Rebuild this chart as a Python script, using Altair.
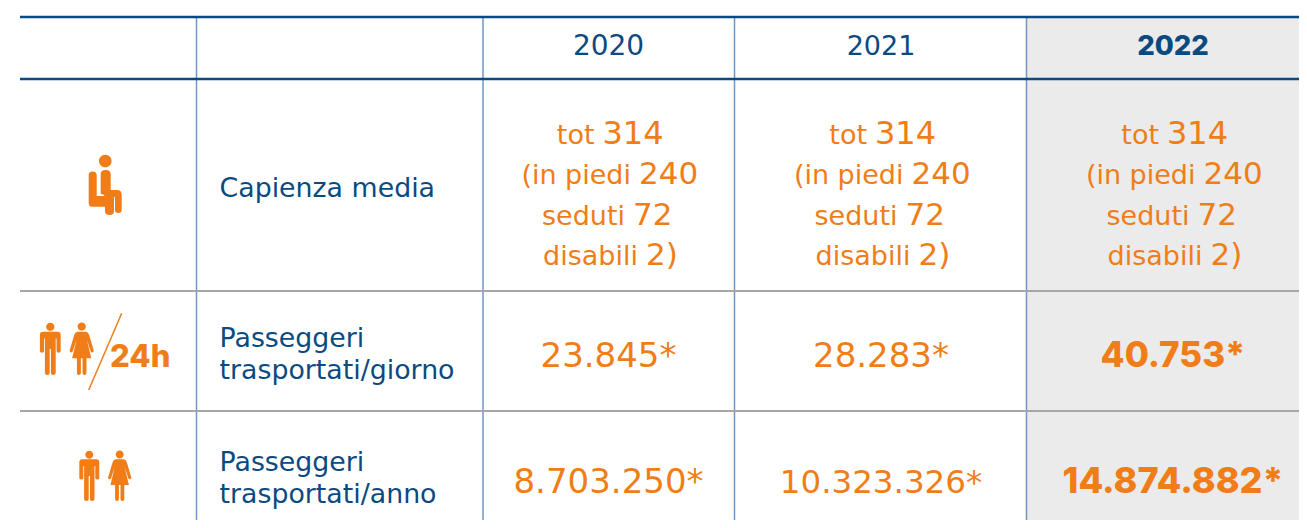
import altair as alt
import pandas as pd

# ---------- data ----------
years = ["2020", "2021", "2022"]
row_labels = [["Capienza media"],
              ["Passeggeri", "trasportati/giorno"],
              ["Passeggeri", "trasportati/anno"]]
capacity_words = ["tot", "(in piedi", "seduti", "disabili"]
capacity_values = ["314", "240", "72", "2)"]
daily = ["23.845*", "28.283*", "40.753*"]
yearly = ["8.703.250*", "10.323.326*", "14.874.882*"]

# ---------- layout (page pixels) ----------
OX, OY = 8, 8
W, H = 1291, 512
col_center = {"2020": 608.5, "2021": 881, "2022": 1173}
col_edges = [196.5, 483, 734.5, 1026.5]
label_x = 219.5
cap_base = [143.5, 184, 224.5, 265]
cap_split = [-10, 26.5, 20.5, 33.5]
BLUE, ORANGE, GREY, VLINE, BG = "#0b4a80", "#f07d17", "#a6a6a6", "#6f97c6", "#ebebeb"
FONT = "DejaVu Sans"
BOLD = "Inter"


def P(text, x, y, **kw):
    return dict(text=text, x=x - OX, y=y - OY, **kw)


def text_layer(rows, size, color, align="center", weight=400):
    return alt.Chart(pd.DataFrame(rows)).mark_text(
        font=BOLD if weight > 400 else FONT, fontSize=size, color=color, align=align,
        baseline="alphabetic", fontWeight=weight
    ).encode(x=alt.X("x:Q", scale=None), y=alt.Y("y:Q", scale=None), text="text:N")


def rule(x1, y1, x2, y2, color, w):
    return alt.Chart(pd.DataFrame({"a": [0]})).mark_rule(color=color, strokeWidth=w).encode(
        x=alt.value(x1 - OX), x2=alt.value(x2 - OX), y=alt.value(y1 - OY), y2=alt.value(y2 - OY))


HEAD = "M{l},{c} a4,4 0 1,0 8,0 a4,4 0 1,0 -8,0 Z"
MAN = ("M-7,-16.7 L7,-16.7 Q10,-16.7 10,-13.7 L10,2 Q10,3.5 8,3.5 Q6,3.5 6,2 L6,-10 L5.2,-10 "
       "L5.2,23 Q5.2,25 2.9,25 Q0.6,25 0.6,23 L0.6,0 L-0.6,0 L-0.6,23 Q-0.6,25 -2.9,25 Q-5.2,25 -5.2,23 "
       "L-5.2,-10 L-6,-10 L-6,2 Q-6,3.5 -8,3.5 Q-10,3.5 -10,2 L-10,-13.7 Q-10,-16.7 -7,-16.7 Z "
       + HEAD.format(l=-4, c=-21.3))
WOMAN = ("M-4,-16.7 L4,-16.7 Q6,-16.7 7,-14 L11.5,1 Q12,3 10.5,3.3 Q9,3.6 8.5,2 L5,-9 L9.2,9 L4.6,9 "
         "L4.6,23 Q4.6,25 2.8,25 Q0.8,25 0.8,23 L0.8,9 L-0.8,9 L-0.8,23 Q-0.8,25 -2.8,25 Q-4.6,25 -4.6,23 "
         "L-4.6,9 L-9.2,9 L-5,-9 L-8.5,2 Q-9,3.6 -10.5,3.3 Q-12,3 -11.5,1 L-7,-14 Q-6,-16.7 -4,-16.7 Z "
         + HEAD.format(l=-4, c=-21.6))
SEAT = ("M-16.3,-10 Q-16.3,-13.5 -12.5,-13.5 Q-8.3,-13.5 -8.3,-10 L-8.3,11 L0,11 L0,21.7 L-13,21.7 Q-16.3,21.7 -16.3,18 Z "
        "M-4.3,-11 Q-4.3,-15 0.7,-15 Q5.7,-15 5.7,-11 L5.7,5 L12,5 Q16.7,5 16.7,10 L16.7,25 Q16.7,28 13.2,28 "
        "Q10,28 10,25 L10,13 Q10,11.5 9,11.5 L9,26 Q9,30 4.5,30 Q0,30 0,26 L0,13 Q0,9 -4.3,9 Z "
        "M-6,-24 a6.3,6.3 0 1,0 12.6,0 a6.3,6.3 0 1,0 -12.6,0 Z")


def icon(shape, x, y, k=1.0):
    return alt.Chart(pd.DataFrame({"a": [0]})).mark_point(
        shape=shape, size=4 * k * k, filled=True, fill=ORANGE, opacity=1, strokeWidth=0
    ).encode(x=alt.value(x - OX), y=alt.value(y - OY))


# ---------- layers ----------
bg = alt.Chart(pd.DataFrame({"a": [0]})).mark_rect(color=BG).encode(
    x=alt.value(1026.5 - OX), x2=alt.value(1307 - OX), y=alt.value(17 - OY), y2=alt.value(528 - OY))

layers = [bg]
for ex in col_edges:
    layers.append(rule(ex, 17, ex, 528, VLINE, 1.5))
layers += [rule(20, 291, 1307, 291, GREY, 2), rule(20, 411, 1307, 411, GREY, 2),
           rule(20, 17, 1307, 17, BLUE, 2.6), rule(20, 79, 1307, 79, BLUE, 2.6)]

layers.append(text_layer([P(years[0], col_center[years[0]], 54.5)], 28, BLUE))
layers.append(text_layer([P(years[1], col_center[years[1]], 54.5)], 27, BLUE))
layers.append(text_layer([P("2022", col_center["2022"], 54.5)], 27.5, BLUE, weight=800))

layers.append(text_layer([P(row_labels[0][0], label_x, 197),
                          P(row_labels[1][0], label_x, 347), P(row_labels[1][1], label_x, 379),
                          P(row_labels[2][0], label_x, 471), P(row_labels[2][1], label_x, 503)],
                         26.8, BLUE, align="left"))

words, nums_big, nums_mid = [], [], []
for y in years:
    c = col_center[y]
    for i in range(4):
        words.append(P(capacity_words[i], c + cap_split[i] - 4, cap_base[i]))
        (nums_big if i == 0 else nums_mid).append(P(capacity_values[i], c + cap_split[i] + 4, cap_base[i]))
layers.append(text_layer(words, 27, ORANGE, align="right"))
layers.append(text_layer(nums_big, 32, ORANGE, align="left"))
layers.append(text_layer(nums_mid, 31, ORANGE, align="left"))

layers.append(text_layer([P(daily[i], col_center[years[i]], 367) for i in range(2)], 34, ORANGE))
layers.append(text_layer([P(daily[2], col_center["2022"], 367)], 35, ORANGE, weight=800))
layers.append(text_layer([P(yearly[0], col_center[years[0]], 492.5)], 34, ORANGE))
layers.append(text_layer([P(yearly[1], col_center[years[1]], 492.5)], 32.5, ORANGE))
layers.append(text_layer([P(yearly[2], col_center["2022"], 492.5)], 36, ORANGE, weight=800))

layers += [icon(SEAT, 105, 185), icon(MAN, 50.3, 349, 1.04), icon(WOMAN, 81.7, 349, 1.04),
           icon(MAN, 89.3, 476), icon(WOMAN, 119.7, 476),
           rule(121.7, 313.3, 88.7, 390, ORANGE, 1.5)]
layers.append(text_layer([P("24h", 110, 367)], 31, ORANGE, align="left", weight=800))

chart = alt.layer(*layers).properties(
    width=W, height=H, padding=0, autosize=alt.AutoSizeParams(type="none")
).configure_view(stroke=None).configure_axis(disable=True)

chart.save("out.html", embed_options={"renderer": "svg", "actions": False})
